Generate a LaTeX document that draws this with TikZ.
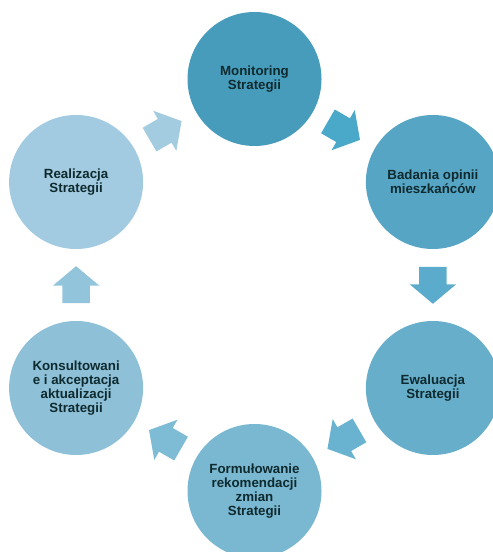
\documentclass[tikz,border=0pt]{standalone}
\usepackage{fontspec}
\setmainfont{Liberation Sans}
\usetikzlibrary{shapes.arrows}
\definecolor{txtdark}{HTML}{0E2A2E}
\definecolor{circA}{HTML}{479CBC}
\definecolor{circB}{HTML}{56A5C4}
\definecolor{circC}{HTML}{67AECB}
\definecolor{circD}{HTML}{7AB7D0}
\definecolor{circE}{HTML}{8EC0D8}
\definecolor{circF}{HTML}{A2CAE0}
\definecolor{arrA}{HTML}{4AA8C8}
\definecolor{arrB}{HTML}{5BACCC}
\definecolor{arrC}{HTML}{6AB3D0}
\definecolor{arrD}{HTML}{7EBBD5}
\definecolor{arrE}{HTML}{92C4DC}
\definecolor{arrF}{HTML}{A3CCE1}
\tikzset{
  stage/.style={circle, minimum size=134bp, inner sep=0pt, align=center,
    text=txtdark, font=\bfseries\fontsize{13.3bp}{14.1bp}\selectfont},
  blockarrow/.style={single arrow, pos=0.243, anchor=tail, sloped, allow upside down,
    minimum height=37bp, inner xsep=0pt, inner ysep=13.5bp,
    single arrow head extend=9.5bp, single arrow tip angle=100}
}
\begin{document}
\begin{tikzpicture}[x=1bp, y=1bp]
\useasboundingbox (0,0) rectangle (493,552);
\clip (0,0) rectangle (493,552);
\node[stage, fill=circA] at (254.5, 473) (mon) {Monitoring\\Strategii};
\node[stage, fill=circB] at (432.9, 370) (bad) {Badania opinii\\mieszkańców};
\node[stage, fill=circC] at (432.9, 164) (ewa) {Ewaluacja\\Strategii};
\node[stage, fill=circD] at (254.5, 61) (for) {Formułowanie\\rekomendacji\\zmian\\Strategii};
\node[stage, fill=circE] at (76.1, 164) (kon) {Konsultowani\\e i akceptacja\\aktualizacji\\Strategii};
\node[stage, fill=circF] at (76.1, 370) (rea) {Realizacja\\Strategii};
\path (mon) -- (bad) node[blockarrow, fill=arrA] (mb) {};
\path (bad) -- (ewa) node[blockarrow, fill=arrB] (be) {};
\path (ewa) -- (for) node[blockarrow, fill=arrC] (ef) {};
\path (for) -- (kon) node[blockarrow, fill=arrD] (fk) {};
\path (kon) -- (rea) node[blockarrow, fill=arrE] (kr) {};
\path (rea) -- (mon) node[blockarrow, fill=arrF] (rm) {};
\end{tikzpicture}
\end{document}
